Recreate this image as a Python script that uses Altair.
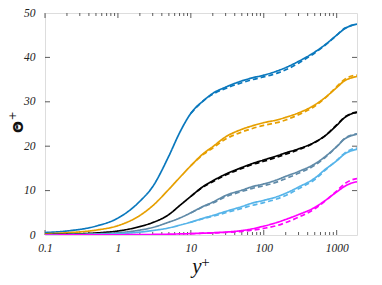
import altair as alt
import pandas as pd

# ---------------- data ----------------
yplus = [0.1, 0.2, 0.5, 1, 2, 3, 5, 7, 10, 15, 20, 30, 50, 70, 100, 150, 200,
         300, 500, 700, 1000, 1300, 1600, 1900]

blue = [0.55, 0.9, 2.0, 3.8, 7.6, 10.9, 17.8, 23.0, 27.4, 30.3, 31.9, 33.3, 34.7,
        35.4, 36.0, 36.9, 37.7, 39.1, 41.2, 42.9, 45.0, 46.5, 47.2, 47.5]
orange = [0.25, 0.5, 1.1, 2.1, 4.4, 6.6, 10.3, 12.9, 15.6, 18.4, 19.9, 22.1, 23.8,
          24.6, 25.3, 25.9, 26.5, 27.5, 29.3, 31.0, 33.2, 34.8, 35.4, 35.7]
black = [0.1, 0.18, 0.45, 0.9, 1.9, 2.8, 4.6, 6.6, 8.7, 11.0, 12.2, 13.7, 15.2,
         16.1, 16.9, 17.8, 18.5, 19.4, 20.9, 22.4, 24.7, 26.5, 27.3, 27.6]
gray = [0.05, 0.1, 0.25, 0.5, 1.1, 1.7, 2.9, 3.8, 5.0, 6.5, 7.4, 8.9, 10.1,
        10.9, 11.5, 12.4, 13.2, 14.3, 16.0, 17.7, 19.9, 21.7, 22.4, 22.7]
lightblue = [0.03, 0.06, 0.15, 0.3, 0.65, 1.0, 1.6, 2.2, 2.9, 3.8, 4.4, 5.3, 6.4,
             7.2, 7.8, 8.6, 9.4, 10.8, 12.8, 14.8, 16.7, 18.3, 19.0, 19.3]
magenta = [0.0, 0.01, 0.03, 0.05, 0.09, 0.12, 0.18, 0.24, 0.3, 0.42, 0.5, 0.65, 1.0,
           1.4, 2.0, 2.8, 3.5, 4.6, 6.2, 7.8, 9.7, 11.0, 11.7, 12.0]

yplus_d = [10, 15, 20, 30, 50, 70, 100, 150, 200, 300, 500, 700, 1000, 1300, 1600, 1900]
blue_d = [27.4, 30.3, 31.7, 33.0, 34.3, 35.0, 35.6, 36.4, 37.2, 38.7, 41.0, 42.8,
          45.0, 46.6, 47.2, 47.5]
orange_d = [15.6, 18.2, 19.6, 21.6, 23.2, 24.0, 24.7, 25.3, 25.9, 27.1, 29.0, 30.9,
            33.4, 35.1, 35.8, 36.0]
black_d = [8.7, 10.9, 12.0, 13.5, 15.0, 15.9, 16.6, 17.5, 18.2, 19.2, 20.8, 22.4,
           24.8, 26.6, 27.4, 27.7]
gray_d = [5.0, 6.4, 7.2, 8.6, 9.8, 10.5, 11.1, 11.9, 12.7, 13.9, 15.7, 17.5,
          19.9, 21.8, 22.5, 22.8]
lightblue_d = [2.9, 3.7, 4.2, 5.0, 6.0, 6.7, 7.3, 8.1, 8.9, 10.4, 12.5, 14.6,
               16.8, 18.5, 19.3, 19.6]
magenta_d = [0.3, 0.4, 0.45, 0.6, 0.8, 1.1, 1.5, 2.1, 2.8, 4.0, 5.9, 7.7,
             9.9, 11.6, 12.4, 12.7]

series_names = ["blue", "orange", "black", "gray", "lightblue", "magenta"]
series_colors = ["#0a78bd", "#e69f00", "#000000", "#5f8aa8", "#56b4e9", "#ff00ff"]

x_major = [0.1, 1, 10, 100, 1000]
x_minor = [k * m for m in [0.1, 1, 10, 100, 1000] for k in range(2, 10) if k * m <= 1900]
y_major = [0, 10, 20, 30, 40, 50]

x_title = ["y", "+"]
y_title = ["Θ", "+"]

XMAX = 1900
W, H = 312, 222

# ---------------- table ----------------
rows = []
solid = [blue, orange, black, gray, lightblue, magenta]
dashed = [blue_d, orange_d, black_d, gray_d, lightblue_d, magenta_d]
for name, vals in zip(series_names, solid):
    for x, v in zip(yplus, vals):
        rows.append({"series": name, "style": "solid", "yplus": x, "theta": v})
for name, vals in zip(series_names, dashed):
    for x, v in zip(yplus_d, vals):
        rows.append({"series": name, "style": "dashed", "yplus": x, "theta": v})
df = pd.DataFrame(rows)

xscale = alt.Scale(type="log", domain=[0.1, XMAX], nice=False)
yscale = alt.Scale(domain=[0, 50], nice=False)

lines = alt.Chart(df).mark_line(strokeWidth=1.7, interpolate="monotone", clip=True).encode(
    x=alt.X("yplus:Q", scale=xscale,
            axis=alt.Axis(values=x_major, format="~g", title=None, grid=False,
                          ticks=False, domain=False, labelPadding=7, labelFlush=False,
                          labelFont="Liberation Serif", labelFontStyle="italic",
                          labelFontSize=11.5, labelColor="#222")),
    y=alt.Y("theta:Q", scale=yscale,
            axis=alt.Axis(values=y_major, title=None, grid=False, ticks=False,
                          domain=False, labelPadding=10, labelFlush=False,
                          labelFont="Liberation Serif", labelFontStyle="italic",
                          labelFontSize=11.5, labelColor="#222")),
    color=alt.Color("series:N", scale=alt.Scale(domain=series_names, range=series_colors),
                    legend=None),
    strokeDash=alt.StrokeDash("style:N",
                              scale=alt.Scale(domain=["solid", "dashed"],
                                              range=[[1, 0], [5, 3]]),
                              legend=None),
    detail="style:N",
)

xmaj = pd.DataFrame({"t": x_major})
xmin = pd.DataFrame({"t": x_minor})
ymaj = pd.DataFrame({"t": y_major[1:-1]})

tick_color = "#333"


def xticks(data, length):
    bottom = alt.Chart(data).mark_rule(color=tick_color, strokeWidth=0.8).encode(
        x=alt.X("t:Q", scale=xscale), y=alt.value(H), y2=alt.value(H - length))
    top = alt.Chart(data).mark_rule(color=tick_color, strokeWidth=0.8).encode(
        x=alt.X("t:Q", scale=xscale), y=alt.value(0), y2=alt.value(length))
    return [bottom, top]


def yticks(data, length):
    left = alt.Chart(data).mark_rule(color=tick_color, strokeWidth=0.8).encode(
        y=alt.Y("t:Q", scale=yscale), x=alt.value(0), x2=alt.value(length))
    right = alt.Chart(data).mark_rule(color=tick_color, strokeWidth=0.8).encode(
        y=alt.Y("t:Q", scale=yscale), x=alt.value(W), x2=alt.value(W - length))
    return [left, right]


# axis titles (main symbol + raised "+")
xt_main = alt.Chart(pd.DataFrame({"s": [x_title[0]]})).mark_text(
    font="Liberation Serif", fontStyle="italic", fontSize=21, color="#111",
    align="center", baseline="alphabetic").encode(
    text="s:N", x=alt.value(W / 2 - 4), y=alt.value(H + 38))
xt_sup = alt.Chart(pd.DataFrame({"s": [x_title[1]]})).mark_text(
    font="Liberation Serif", fontSize=15, color="#111",
    align="center", baseline="middle").encode(
    text="s:N", x=alt.value(W / 2 + 4.5), y=alt.value(H + 27))
yt_main = alt.Chart(pd.DataFrame({"s": [y_title[0]]})).mark_text(
    font="DejaVu Sans", fontWeight="bold", fontSize=14, color="#111", angle=270,
    align="center", baseline="middle").encode(
    text="s:N", x=alt.value(-26), y=alt.value(H / 2 + 3))
yt_sup = alt.Chart(pd.DataFrame({"s": [y_title[1]]})).mark_text(
    font="DejaVu Sans", fontSize=11, color="#111", angle=270,
    align="center", baseline="middle").encode(
    text="s:N", x=alt.value(-32), y=alt.value(H / 2 - 8))

layers = (xticks(xmaj, 5) + xticks(xmin, 3) + yticks(ymaj, 5) +
          [lines, xt_main, xt_sup, yt_main, yt_sup])

chart = alt.layer(*layers).properties(
    width=W, height=H,
    autosize=alt.AutoSizeParams(type="none"),
    padding={"left": 37, "top": 5, "right": 15, "bottom": 44},
).configure_view(stroke="#111", strokeWidth=1.2).configure(background="white")

chart.save("out.html", embed_options={"renderer": "svg", "actions": False})
